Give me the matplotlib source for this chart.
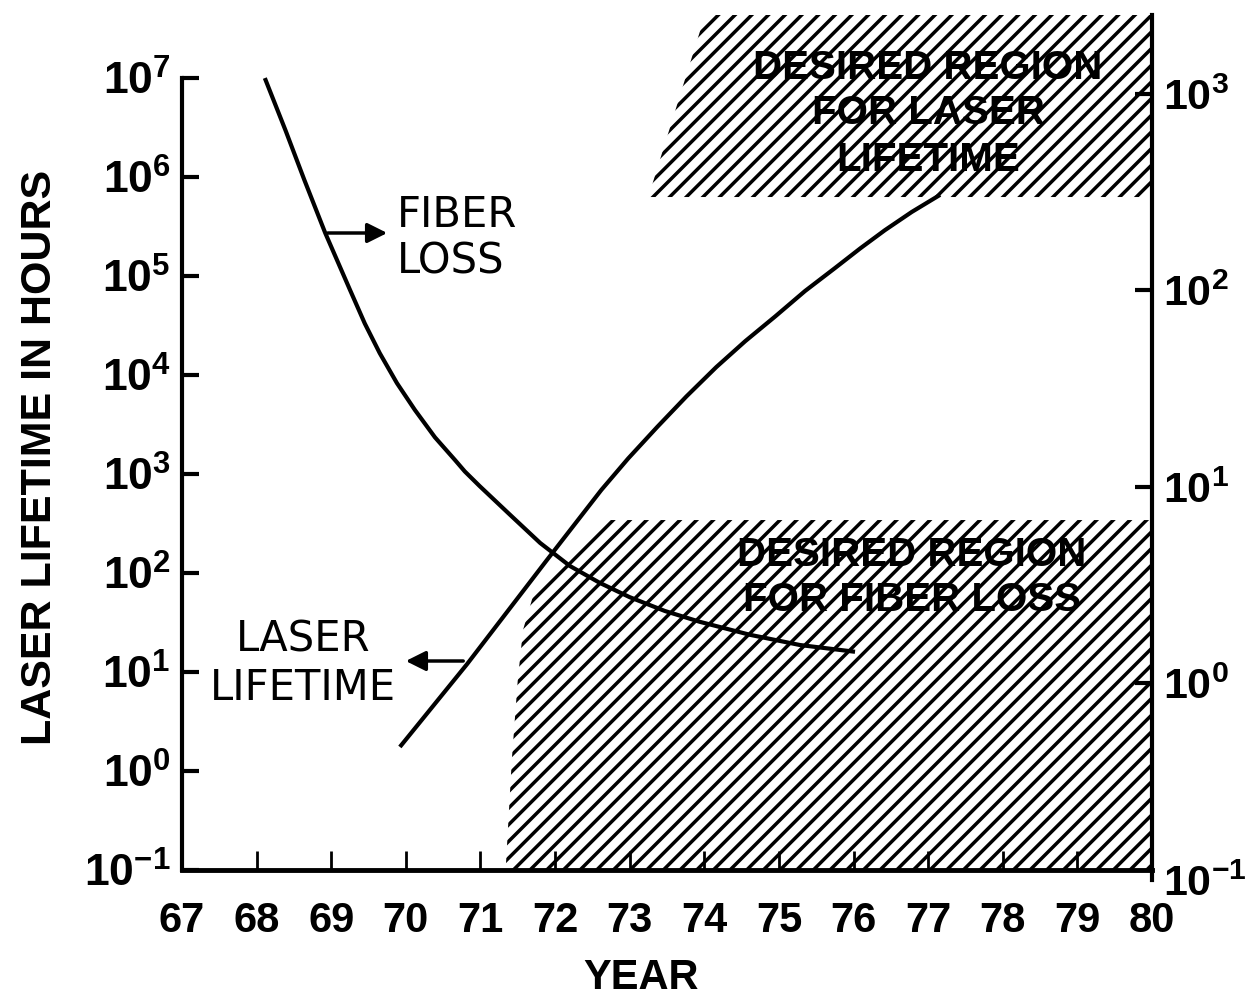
import numpy as np
import matplotlib.pyplot as plt
from matplotlib.patches import Polygon
from matplotlib.ticker import NullLocator

plt.rcParams['font.family'] = 'Liberation Sans'
plt.rcParams['font.weight'] = 'bold'
plt.rcParams['mathtext.fontset'] = 'custom'
plt.rcParams['mathtext.rm'] = 'Liberation Sans:bold'
plt.rcParams['mathtext.it'] = 'Liberation Sans:bold'
plt.rcParams['mathtext.bf'] = 'Liberation Sans:bold'
plt.rcParams['hatch.linewidth'] = 2.5

# axis ticks
years = list(range(67, 81))
hours_ticks = [1e-1, 1e0, 1e1, 1e2, 1e3, 1e4, 1e5, 1e6, 1e7]
loss_ticks = [1e-1, 1e0, 1e1, 1e2, 1e3]

# laser lifetime (left axis, hours)
laser_year = [69.92, 70.82, 71.88, 72.62, 72.98, 73.37, 73.76, 74.16, 74.55,
              74.95, 75.35, 75.75, 76.09, 76.42, 76.78, 77.16]
laser_hours = [1.75, 12, 132, 690, 1435, 2990, 6070, 1.2e4, 2.2e4,
               3.9e4, 7.05e4, 1.2e5, 1.9e5, 2.9e5, 4.43e5, 6.6e5]

# fiber loss (right axis)
fiber_year = [68.11, 68.39, 68.64, 68.92, 69.25, 69.45, 69.65, 69.88, 70.12, 70.39,
              70.66, 70.79, 70.99, 71.40, 71.80, 72.20, 72.60, 73.00, 73.47, 73.94,
              74.61, 75.28, 76.02]
fiber_loss = [1205, 649, 365, 196, 101, 67.9, 48, 33.8, 24.7, 17.9,
              13.7, 12.0, 10.1, 7.2, 5.19, 3.96, 3.25, 2.75, 2.34, 2.06,
              1.77, 1.57, 1.45]

# desired regions (right axis coordinates)
laser_region_year = [73.25, 74.01, 80, 80]
laser_region_loss = [299, None, None, 299]   # None -> top of axis
fiber_region_year = [71.33, 71.42, 71.50, 71.57, 71.70, 72.07, 72.67, 80, 80]
fiber_region_loss = [0.1, 0.408, 1.04, 1.87, 2.75, 4.25, 6.79, 6.79, 0.1]

W, H = 1249, 998
fig = plt.figure(figsize=(W / 100, H / 100), dpi=100)
ax = fig.add_axes([182 / W, 1 - 870 / H, 970 / W, 855 / H])
ax2 = fig.add_axes([182 / W, 1 - 880 / H, 970 / W, 865 / H], sharex=ax)
ax2.patch.set_visible(False)
ax2.xaxis.set_visible(False)
ax2.yaxis.tick_right()

ax.set_xlim(67, 80)
ax.set_yscale('log')
ax.set_ylim(1e-1, 10 ** 7.636)
ax2.set_yscale('log')
ax2.set_ylim(1e-1, 10 ** 3.402)

top = ax2.get_ylim()[1]
lr = [v if v is not None else top for v in laser_region_loss]
for xs, ys in [(laser_region_year, lr), (fiber_region_year, fiber_region_loss)]:
    poly = Polygon(np.column_stack([xs, ys]), closed=True, fill=False,
                   hatch='//', edgecolor='black', linewidth=0)
    ax2.add_patch(poly)
    poly.set_clip_path(ax.patch)

ax.plot(laser_year, laser_hours, color='black', lw=3, solid_capstyle='butt')
ax2.plot(fiber_year, fiber_loss, color='black', lw=3, solid_capstyle='butt')

# spines
for s in ['top', 'right']:
    ax.spines[s].set_visible(False)
for s in ['top', 'left', 'bottom']:
    ax2.spines[s].set_visible(False)
ax.spines['left'].set_bounds(1e-1, 1e7)
ax.spines['left'].set_linewidth(3)
ax.spines['bottom'].set_linewidth(3.5)
ax2.spines['right'].set_linewidth(3)

# ticks
def pow_label(v):
    return r'$10^{%d}$' % int(round(np.log10(v)))

ax.set_xticks(years)
ax.set_xticklabels([str(y) for y in years])
ax.set_yticks(hours_ticks)
ax.set_yticklabels([pow_label(v) for v in hours_ticks])
ax.yaxis.set_minor_locator(NullLocator())
ax2.set_yticks(loss_ticks)
ax2.set_yticklabels([pow_label(v) for v in loss_ticks])
ax2.yaxis.set_minor_locator(NullLocator())

ax.tick_params(axis='x', direction='in', length=14, width=2, pad=22, labelsize=30)
ax.tick_params(axis='y', direction='in', length=12, width=3, pad=8, labelsize=32)
ax2.tick_params(axis='y', direction='in', length=12, width=3, pad=8, labelsize=31)
ax2.yaxis.get_major_ticks()[0].tick2line.set_visible(False)

def ftext(px, py, s, **kw):
    fig.text(px / W, 1 - py / H, s, **kw)

ftext(40, 457, 'LASER LIFETIME IN HOURS', rotation=90, ha='center', va='center', fontsize=31)
ftext(641, 978, 'YEAR', ha='center', va='center', fontsize=30)

# curve labels
lab = dict(fontsize=30, fontweight='normal', family='DejaVu Sans', va='center')
ftext(397, 215, 'FIBER', ha='left', **lab)
ftext(397, 262, 'LOSS', ha='left', **lab)
ftext(303, 640, 'LASER', ha='center', **lab)
ftext(303, 688, 'LIFETIME', ha='center', **lab)

arrow = dict(arrowstyle='-|>', lw=2.5, color='black', mutation_scale=30)
ax.annotate('', xy=(390, H - 233), xytext=(325, H - 233),
            xycoords='figure pixels', textcoords='figure pixels', arrowprops=arrow)
ax.annotate('', xy=(403, H - 661), xytext=(466, H - 661),
            xycoords='figure pixels', textcoords='figure pixels', arrowprops=arrow)

# region labels
for py, s in [(68, 'DESIRED REGION'), (113, 'FOR LASER'), (160, 'LIFETIME')]:
    ftext(928, py, s, ha='center', va='center', fontsize=29)
for py, s in [(555, 'DESIRED REGION'), (600, 'FOR FIBER LOSS')]:
    ftext(912, py, s, ha='center', va='center', fontsize=29)

plt.savefig('out.png', dpi=100)
